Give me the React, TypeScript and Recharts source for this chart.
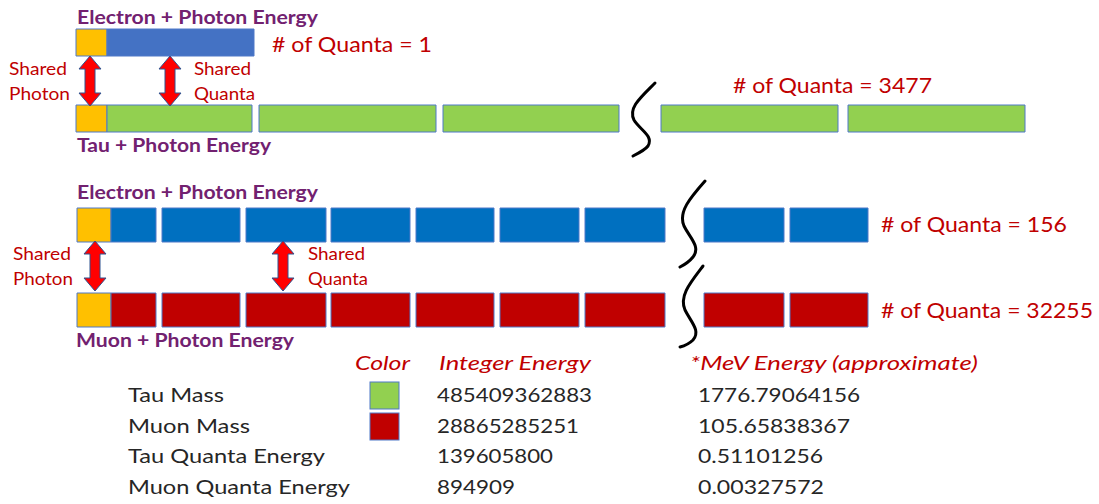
import { Bar, BarChart, Cell, XAxis, YAxis } from "recharts";

// segment lengths along each row: [photon, quantum, gap, quantum, gap, ...]
const electronTopSegments = [31, 147];
const tauSegments = [31, 145, 7, 177, 7, 176, 42, 177, 10, 177];
const electronSegments = [34, 45, 6, 78, 6, 80, 5, 79, 6, 78, 6, 79, 6, 80, 39, 80, 6, 78];
const muonSegments = [34, 45, 6, 78, 6, 80, 5, 79, 6, 78, 6, 79, 6, 80, 39, 80, 6, 78];

const quantaCounts = [1, 3477, 156, 32255];

const tableHeaders = ["Color", "Integer Energy", "*MeV Energy (approximate)"];
const tableLabels = ["Tau Mass", "Muon Mass", "Tau Quanta Energy", "Muon Quanta Energy"];
const integerEnergies = ["485409362883", "28865285251", "139605800", "894909"];
const mevEnergies = ["1776.79064156", "105.65838367", "0.51101256", "0.00327572"];

const PHOTON = "#FFC000";
const OUTLINE = "#4f78c8";
const RED_TEXT = "#C00000";
const PURPLE = "#722170";
const FONT = "Lato, 'Open Sans', sans-serif";

interface SegRow {
  name: string;
  segments: number[];
  color: string;
}

function SegmentRows({ rows, left, top, height, barSize }: { rows: SegRow[]; left: number; top: number; height: number; barSize: number }) {
  const maxLen = Math.max(...rows.map((r) => r.segments.length));
  const keys = Array.from({ length: maxLen }, (_, i) => `s${i}`);
  const data = rows.map((r) => {
    const o: Record<string, string | number> = { name: r.name };
    keys.forEach((k, i) => (o[k] = r.segments[i] ?? 0));
    return o;
  });
  const total = Math.max(...rows.map((r) => r.segments.reduce((a, b) => a + b, 0)));
  const pad = 2;

  return (
    <div style={{ position: "absolute", left: left - pad, top }}>
      <BarChart
        layout="vertical"
        width={total + pad * 2}
        height={height}
        data={data}
        margin={{ top: 0, right: pad, bottom: 0, left: pad }}
      >
        <XAxis type="number" domain={[0, total]} hide />
        <YAxis type="category" dataKey="name" hide />
        {keys.map((k, i) => (
          <Bar key={k} dataKey={k} stackId="row" barSize={barSize} isAnimationActive={false}>
            {rows.map((r) => {
              const empty = i >= r.segments.length || (i >= 2 && i % 2 === 0);
              const fill = empty ? "none" : i === 0 ? PHOTON : r.color;
              return <Cell key={r.name} fill={fill} stroke={empty ? "none" : OUTLINE} strokeWidth={1} />;
            })}
          </Bar>
        ))}
      </BarChart>
    </div>
  );
}

function Arrow({ cx, y1, y2 }: { cx: number; y1: number; y2: number }) {
  const hw = 11, hh = 13, sw = 5;
  const pts = [
    [cx, y1], [cx + hw, y1 + hh], [cx + sw, y1 + hh], [cx + sw, y2 - hh], [cx + hw, y2 - hh],
    [cx, y2], [cx - hw, y2 - hh], [cx - sw, y2 - hh], [cx - sw, y1 + hh], [cx - hw, y1 + hh],
  ];
  return <polygon points={pts.map((p) => p.join(",")).join(" ")} fill="#FF0000" stroke="#2F528F" strokeWidth={1} />;
}

function T({ x, y, w, size, color, bold, italic, children }: { x: number; y: number; w: number; size: number; color: string; bold?: boolean; italic?: boolean; children: string }) {
  return (
    <text
      x={x}
      y={y}
      textLength={w}
      lengthAdjust="spacingAndGlyphs"
      fontSize={size}
      fill={color}
      fontWeight={bold ? 700 : 400}
      fontStyle={italic ? "italic" : "normal"}
      fontFamily={FONT}
    >
      {children}
    </text>
  );
}

export default function App() {
  return (
    <div style={{ position: "absolute", left: 0, top: 0, width: 1099, height: 504, background: "#fff", overflow: "hidden" }}>
      <SegmentRows
        rows={[
          { name: "electron", segments: electronTopSegments, color: "#4472C4" },
          { name: "tau", segments: tauSegments, color: "#92D050" },
        ]}
        left={76}
        top={4}
        height={152}
        barSize={27}
      />
      <SegmentRows
        rows={[
          { name: "electron", segments: electronSegments, color: "#0070C0" },
          { name: "muon", segments: muonSegments, color: "#C00000" },
        ]}
        left={77}
        top={182}
        height={170}
        barSize={34}
      />
      <svg width={1099} height={504} style={{ position: "absolute", left: 0, top: 0, pointerEvents: "none" }}>
        {/* break marks */}
        <g fill="none" stroke="#000" strokeWidth={3} strokeLinecap="round">
          <path d="M655,83 C640,98 628,108 634,120 C640,130 654,136 648,146 C645,150 639,153 633,156" />
          <path d="M705,181 C690,198 678,212 684,226 C690,238 701,247 693,257 C689,262 684,265 680,267" />
          <path d="M703,266 C690,283 679,296 685,310 C691,322 701,331 693,340 C689,344 684,346 680,347" />
        </g>

        <Arrow cx={90} y1={56} y2={106} />
        <Arrow cx={170} y1={56} y2={106} />
        <Arrow cx={95} y1={241} y2={291} />
        <Arrow cx={283} y1={241} y2={291} />

        <T x={77} y={24} w={241} size={19} color={PURPLE} bold>Electron + Photon Energy</T>
        <T x={77} y={152} w={194} size={19} color={PURPLE} bold>Tau + Photon Energy</T>
        <T x={77} y={199} w={241} size={19} color={PURPLE} bold>Electron + Photon Energy</T>
        <T x={76} y={347} w={218} size={19} color={PURPLE} bold>Muon + Photon Energy</T>

        <T x={272} y={52} w={160} size={22} color={RED_TEXT}>{`# of Quanta = ${quantaCounts[0]}`}</T>
        <T x={733} y={93} w={199} size={21} color={RED_TEXT}>{`# of Quanta = ${quantaCounts[1]}`}</T>
        <T x={881} y={232} w={186} size={21} color={RED_TEXT}>{`# of Quanta = ${quantaCounts[2]}`}</T>
        <T x={881} y={318} w={212} size={21} color={RED_TEXT}>{`# of Quanta = ${quantaCounts[3]}`}</T>

        <T x={9} y={75} w={58} size={17} color={RED_TEXT}>Shared</T>
        <T x={9} y={100} w={61} size={17} color={RED_TEXT}>Photon</T>
        <T x={194} y={75} w={57} size={17} color={RED_TEXT}>Shared</T>
        <T x={194} y={100} w={61} size={17} color={RED_TEXT}>Quanta</T>
        <T x={13} y={260} w={58} size={17} color={RED_TEXT}>Shared</T>
        <T x={13} y={285} w={60} size={17} color={RED_TEXT}>Photon</T>
        <T x={308} y={260} w={57} size={17} color={RED_TEXT}>Shared</T>
        <T x={308} y={285} w={60} size={17} color={RED_TEXT}>Quanta</T>

        {/* table */}
        <T x={355} y={370} w={55} size={20} color={RED_TEXT} italic>{tableHeaders[0]}</T>
        <T x={439} y={370} w={152} size={20} color={RED_TEXT} italic>{tableHeaders[1]}</T>
        <T x={690} y={370} w={288} size={20} color={RED_TEXT} italic>{tableHeaders[2]}</T>

        <rect x={370} y={382} width={29} height={27} fill="#92D050" stroke={OUTLINE} strokeWidth={1} />
        <rect x={370} y={413} width={29} height={27} fill="#C00000" stroke={OUTLINE} strokeWidth={1} />

        {tableLabels.map((label, i) => {
          const y = 402 + i * 30.7;
          const labelW = [96, 122, 197, 222][i];
          const intW = [155, 142, 116, 78][i];
          const mevW = [162, 152, 125, 126][i];
          return (
            <g key={label}>
              <T x={128} y={y} w={labelW} size={20} color="#262626">{label}</T>
              <T x={437} y={y} w={intW} size={20} color="#262626">{integerEnergies[i]}</T>
              <T x={698} y={y} w={mevW} size={20} color="#262626">{mevEnergies[i]}</T>
            </g>
          );
        })}
      </svg>
    </div>
  );
}
